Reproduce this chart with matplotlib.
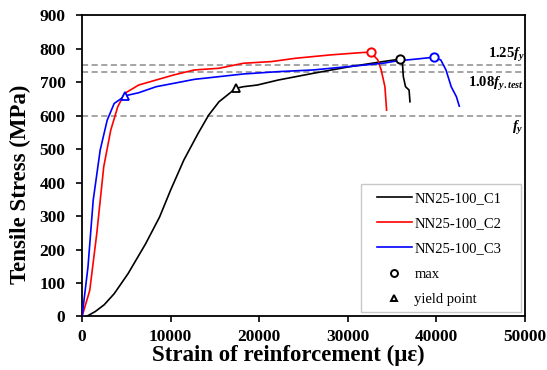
import matplotlib
matplotlib.use("Agg")
import matplotlib.pyplot as plt
from matplotlib.patches import Rectangle

plt.rcParams['font.family'] = ['Liberation Serif', 'DejaVu Serif']
plt.rcParams['mathtext.fontset'] = 'custom'
plt.rcParams['mathtext.it'] = 'Liberation Serif:italic:bold'
plt.rcParams['mathtext.rm'] = 'Liberation Serif:bold'
plt.rcParams['mathtext.bf'] = 'Liberation Serif:bold'

# ---- data ----
c1_strain = [500, 1500, 2500, 3630, 5200, 7180, 8760, 10000, 11500, 13100, 14300, 15470,
             17360, 18230, 19800, 22180, 26130, 30070, 34000, 35870, 36190, 36300, 36550, 36950, 37050]
c1_stress = [0, 15, 35, 68, 128, 217, 297, 377, 467, 546, 601, 641,
             681, 686, 691, 706, 726, 745, 761, 768, 761, 716, 686, 676, 641]

c2_strain = [0, 870, 1660, 2450, 3240, 4030, 4815, 6400, 8370, 10340, 12700, 15470,
             18230, 21390, 24150, 28100, 31650, 32600, 33420, 33800, 34220, 34410]
c2_stress = [0, 78, 247, 447, 556, 626, 666, 691, 706, 721, 736, 741,
             756, 761, 771, 781, 788, 789, 766, 736, 686, 616]

c3_strain = [0, 670, 1260, 2050, 2840, 3630, 4890, 6400, 8370, 10340, 12700, 15470,
             18230, 22180, 26130, 30070, 34000, 35580, 37950, 39720, 40530, 41120, 41710, 42300, 42620]
c3_stress = [0, 148, 347, 497, 586, 636, 659, 668, 686, 696, 708, 716,
             724, 731, 736, 746, 756, 763, 769, 774, 766, 736, 686, 656, 628]

series_names = ['NN25-100_C1', 'NN25-100_C2', 'NN25-100_C3']
series_colors = ['black', '#ff0000', '#0000ff']

max_strain = [35870, 32600, 39720]
max_stress = [768, 789, 774]
yield_strain = [17360, 4890]
yield_stress = [681, 659]
yield_colors = ['black', '#0000ff']

ref_levels = [750, 730, 600]
ref_labels = ['1.25$f_y$', '1.08$f_{y.test}$', '$f_y$']

# ---- plot ----
fig = plt.figure(figsize=(5.47, 3.70), dpi=100)
ax = fig.add_axes([0.150, 0.1446, 0.809, 0.8148])

for lvl in ref_levels:
    ax.axhline(lvl, color='#8c8c8c', lw=1.1, ls=(0, (4, 2.3)), zorder=1)

handles = []
for xs, ys, name, col in zip([c1_strain, c2_strain, c3_strain],
                              [c1_stress, c2_stress, c3_stress],
                              series_names, series_colors):
    h, = ax.plot(xs, ys, color=col, lw=1.2, label=name, zorder=3)
    handles.append(h)

for x, y, col in zip(max_strain, max_stress, series_colors):
    ax.plot(x, y, 'o', ms=6, mfc='white', mec=col, mew=1.4, zorder=4)
for x, y, col in zip(yield_strain, yield_stress, yield_colors):
    ax.plot(x, y, '^', ms=6, mfc='white', mec=col, mew=1.3, zorder=4)

hmax, = ax.plot([], [], 'o', ms=5, mfc='white', mec='black', mew=1.4, label='max')
hy, = ax.plot([], [], '^', ms=5, mfc='white', mec='black', mew=1.4, label='yield point')

# legend box (frame drawn separately to match the reference's padding)
ax.add_patch(Rectangle((0.6305, 0.015), 0.3615, 0.4245, transform=ax.transAxes,
                       facecolor='white', edgecolor='#c8c8c8', lw=1.0, zorder=5))
leg = ax.legend(handles=handles + [hmax, hy], loc='upper left',
                bbox_to_anchor=(0.6655, 0.413), fontsize=10.5, frameon=False,
                handlelength=2.4, labelspacing=0.82, borderpad=0.0,
                handletextpad=0.2, borderaxespad=0)
leg.set_zorder(6)

ax.text(50000, 752.5, ref_labels[0], ha='right', va='bottom', fontsize=10.5, fontweight='bold')
ax.text(49850, 722, ref_labels[1], ha='right', va='top', fontsize=10.5, fontweight='bold')
ax.text(49850, 590, ref_labels[2], ha='right', va='top', fontsize=10.5, fontweight='bold')

ax.set_xlim(0, 50000)
ax.set_ylim(0, 900)
ax.set_xticks([0, 10000, 20000, 30000, 40000, 50000])
ax.set_yticks(range(0, 901, 100))
ax.tick_params(direction='out', length=4, width=1.2, labelsize=12.5)
ax.tick_params(axis='x', pad=5)
ax.tick_params(axis='y', pad=8)
for lab in ax.get_xticklabels() + ax.get_yticklabels():
    lab.set_fontweight('bold')
for sp in ax.spines.values():
    sp.set_linewidth(1.3)

ax.set_xlabel('Strain of reinforcement (\u03bc\u03b5)', fontsize=16.5, fontweight='bold')
ax.set_ylabel('Tensile Stress (MPa)', fontsize=16.5, fontweight='bold')
ax.xaxis.set_label_coords(0.4667, -0.094)
ax.yaxis.set_label_coords(-0.116, 0.4395)

fig.savefig('out.png', dpi=100)
